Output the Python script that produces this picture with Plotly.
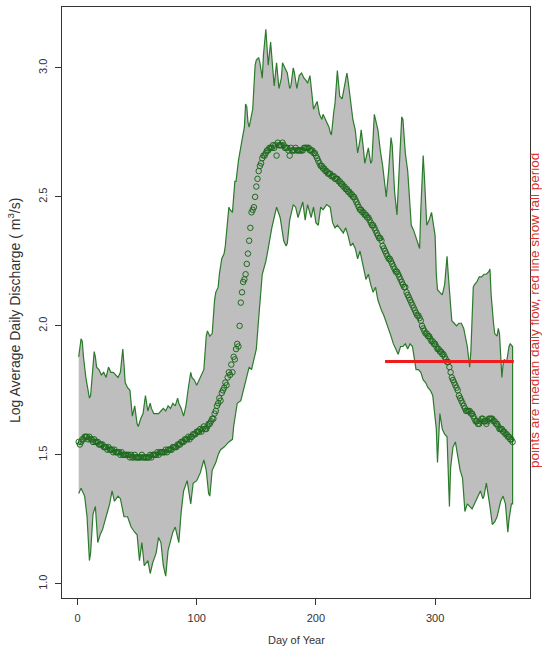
import plotly.graph_objects as go

# ---- data ----
upper_days = [1, 3, 4, 5, 7, 9, 10, 11, 13, 14, 15, 16, 18, 20, 22, 24, 26, 28, 30, 32, 34, 36, 38, 39, 40, 42, 44, 46, 48, 50,
              51, 53, 55, 57, 58, 59, 61, 62, 64, 66, 68, 70, 72, 74, 76, 78, 80, 82, 84, 85, 87, 89, 91, 93, 95, 96, 98, 100, 102, 104,
              106, 108, 109, 111, 113, 115, 116, 118, 119, 121, 123, 124, 126, 127, 128, 130, 132, 133, 135, 137, 138, 140, 141, 142, 143, 144, 146, 147, 149, 150,
              152, 153, 155, 156, 158, 159, 160, 162, 163, 165, 167, 169, 171, 172, 174, 176, 178, 179, 181, 182, 184, 186, 188, 190, 192, 193, 195, 196, 198, 199,
              201, 203, 205, 206, 208, 209, 211, 212, 213, 215, 216, 218, 219, 220, 222, 224, 226, 227, 229, 231, 233, 235, 237, 238, 240, 241, 243, 244, 246, 247,
              249, 250, 252, 254, 256, 258, 259, 261, 263, 264, 266, 268, 270, 272, 273, 275, 277, 279, 280, 282, 284, 286, 287, 288, 290, 291, 293, 295, 297, 299,
              300, 301, 302, 304, 306, 308, 310, 311, 313, 314, 316, 318, 320, 322, 324, 325, 327, 329, 330, 332, 333, 335, 337, 339, 341, 343, 345, 346, 347, 349,
              350, 352, 353, 354, 356, 357, 358, 360, 362, 363, 365]
upper_vals = [1.88, 1.95, 1.94, 1.88, 1.80, 1.74, 1.72, 1.73, 1.84, 1.90, 1.88, 1.84, 1.83, 1.81, 1.82, 1.80, 1.84, 1.82, 1.82, 1.81, 1.80, 1.82, 1.91, 1.85, 1.78, 1.76, 1.75, 1.65, 1.69, 1.62,
              1.61, 1.64, 1.66, 1.73, 1.69, 1.67, 1.70, 1.68, 1.66, 1.66, 1.66, 1.67, 1.68, 1.67, 1.69, 1.68, 1.70, 1.69, 1.72, 1.70, 1.68, 1.65, 1.69, 1.76, 1.82, 1.80, 1.79, 1.77, 1.79, 1.81,
              1.83, 1.96, 1.98, 1.96, 1.97, 2.10, 2.13, 2.15, 2.20, 2.26, 2.28, 2.31, 2.40, 2.46, 2.45, 2.44, 2.56, 2.56, 2.64, 2.70, 2.72, 2.77, 2.86, 2.85, 2.79, 2.77, 2.82, 2.84, 3.01, 3.03,
              3.04, 3.02, 2.96, 3.05, 3.15, 3.05, 3.01, 3.10, 3.05, 2.93, 3.02, 2.92, 2.96, 3.02, 3.00, 2.98, 2.92, 2.93, 3.00, 2.98, 2.92, 2.97, 2.98, 2.96, 2.95, 2.94, 2.97, 2.93, 2.84, 2.85,
              2.87, 2.82, 2.80, 2.82, 2.80, 2.79, 2.77, 2.75, 2.74, 2.83, 2.86, 2.99, 2.94, 2.89, 2.88, 2.93, 2.98, 2.95, 2.88, 2.80, 2.76, 2.67, 2.72, 2.76, 2.68, 2.63, 2.67, 2.69, 2.63, 2.64,
              2.82, 2.80, 2.76, 2.68, 2.62, 2.54, 2.50, 2.60, 2.73, 2.70, 2.52, 2.43, 2.60, 2.81, 2.80, 2.67, 2.60, 2.45, 2.39, 2.37, 2.34, 2.31, 2.30, 2.45, 2.66, 2.58, 2.39, 2.41, 2.44, 2.38,
              2.35, 2.20, 2.14, 2.13, 2.12, 2.16, 2.27, 2.20, 2.05, 2.02, 2.01, 2.00, 2.01, 2.01, 1.99, 1.97, 1.92, 1.84, 1.90, 2.15, 2.16, 2.17, 2.19, 2.19, 2.20, 2.20, 2.21, 2.22, 2.12, 2.01,
              1.97, 1.96, 1.99, 1.97, 1.80, 1.85, 1.87, 1.86, 1.92, 1.93, 1.92]

lower_days = [1, 3, 6, 8, 10, 11, 13, 15, 17, 19, 21, 24, 27, 29, 31, 34, 36, 39, 42, 45, 48, 50, 52, 54, 56, 59, 61, 63, 66, 68,
              70, 72, 74, 76, 78, 80, 82, 85, 87, 89, 92, 95, 97, 100, 103, 106, 108, 110, 111, 113, 116, 118, 120, 123, 127, 130, 131, 134, 137, 139,
              141, 144, 146, 149, 150, 152, 154, 155, 158, 160, 163, 165, 167, 170, 173, 175, 176, 178, 181, 183, 185, 187, 189, 191, 193, 196, 198, 200, 202, 204,
              206, 209, 212, 214, 216, 218, 220, 223, 225, 227, 229, 231, 233, 235, 237, 240, 242, 244, 246, 248, 250, 252, 255, 257, 259, 261, 263, 265, 267, 269,
              271, 273, 275, 277, 279, 281, 283, 284, 286, 288, 290, 292, 294, 296, 298, 299, 301, 302, 303, 304, 306, 308, 310, 311, 312, 313, 315, 317, 319, 321,
              323, 325, 327, 329, 331, 334, 336, 338, 340, 341, 343, 345, 346, 348, 350, 352, 355, 357, 359, 361, 362, 364, 365]
lower_vals = [1.35, 1.37, 1.34, 1.26, 1.09, 1.12, 1.27, 1.30, 1.16, 1.19, 1.21, 1.26, 1.31, 1.36, 1.32, 1.34, 1.33, 1.26, 1.26, 1.22, 1.20, 1.19, 1.09, 1.16, 1.07, 1.09, 1.04, 1.08, 1.12, 1.18,
              1.16, 1.07, 1.03, 1.13, 1.16, 1.20, 1.22, 1.16, 1.28, 1.36, 1.40, 1.31, 1.39, 1.40, 1.43, 1.48, 1.44, 1.35, 1.34, 1.44, 1.47, 1.50, 1.52, 1.53, 1.55, 1.56, 1.61, 1.70, 1.71, 1.75,
              1.78, 1.84, 1.83, 1.89, 1.91, 2.03, 2.15, 2.20, 2.25, 2.30, 2.38, 2.42, 2.46, 2.42, 2.33, 2.31, 2.32, 2.41, 2.47, 2.46, 2.42, 2.45, 2.48, 2.41, 2.47, 2.42, 2.46, 2.40, 2.39, 2.46,
              2.45, 2.47, 2.46, 2.40, 2.38, 2.39, 2.38, 2.36, 2.38, 2.35, 2.31, 2.32, 2.30, 2.26, 2.29, 2.23, 2.18, 2.20, 2.16, 2.13, 2.15, 2.10, 2.06, 2.04, 2.01, 1.99, 1.96, 1.93, 1.91, 1.89,
              1.92, 1.92, 1.93, 1.91, 1.93, 1.92, 1.86, 1.83, 1.83, 1.82, 1.79, 1.78, 1.76, 1.75, 1.73, 1.68, 1.60, 1.47, 1.58, 1.66, 1.60, 1.58, 1.57, 1.45, 1.30, 1.45, 1.53, 1.55, 1.49, 1.44,
              1.41, 1.28, 1.31, 1.30, 1.29, 1.32, 1.34, 1.36, 1.33, 1.34, 1.39, 1.33, 1.30, 1.23, 1.24, 1.26, 1.32, 1.34, 1.31, 1.20, 1.25, 1.31, 1.31]

days = list(range(1, 366))
median_vals = [
    1.55, 1.54, 1.55, 1.56, 1.56, 1.57, 1.57, 1.57, 1.56, 1.57,
    1.56, 1.56, 1.55, 1.56, 1.55, 1.55, 1.55, 1.54, 1.54, 1.54,
    1.54, 1.53, 1.53, 1.53, 1.52, 1.53, 1.52, 1.52, 1.52, 1.51,
    1.52, 1.51, 1.51, 1.51, 1.51, 1.50, 1.51, 1.50, 1.50, 1.50,
    1.50, 1.50, 1.50, 1.49, 1.50, 1.49, 1.49, 1.50, 1.49, 1.49,
    1.49, 1.49, 1.49, 1.50, 1.49, 1.49, 1.49, 1.49, 1.49, 1.49,
    1.50, 1.49, 1.50, 1.50, 1.50, 1.50, 1.51, 1.50, 1.51, 1.51,
    1.51, 1.51, 1.51, 1.52, 1.51, 1.52, 1.52, 1.52, 1.52, 1.53,
    1.53, 1.53, 1.53, 1.54, 1.54, 1.54, 1.55, 1.55, 1.55, 1.56,
    1.56, 1.56, 1.57, 1.56, 1.57, 1.57, 1.58, 1.58, 1.58, 1.59,
    1.59, 1.59, 1.60, 1.59, 1.60, 1.61, 1.60, 1.60, 1.61, 1.62,
    1.62, 1.63, 1.64, 1.64, 1.66, 1.67, 1.69, 1.70, 1.72, 1.71,
    1.74, 1.75, 1.76, 1.78, 1.77, 1.80, 1.82, 1.81, 1.85, 1.82,
    1.88, 1.87, 1.91, 1.93, 1.92, 2.00, 2.09, 2.13, 2.17, 2.18,
    2.20, 2.24, 2.28, 2.33, 2.38, 2.44, 2.45, 2.46, 2.50, 2.54,
    2.57, 2.60, 2.62, 2.63, 2.65, 2.66, 2.66, 2.67, 2.68, 2.68,
    2.69, 2.69, 2.69, 2.70, 2.69, 2.70, 2.66, 2.71, 2.70, 2.70,
    2.70, 2.71, 2.70, 2.69, 2.69, 2.69, 2.68, 2.66, 2.69, 2.68,
    2.68, 2.68, 2.69, 2.68, 2.68, 2.68, 2.68, 2.68, 2.68, 2.69,
    2.69, 2.69, 2.69, 2.69, 2.68, 2.68, 2.68, 2.67, 2.67, 2.66,
    2.65, 2.64, 2.63, 2.62, 2.62, 2.61, 2.61, 2.60, 2.60, 2.59,
    2.59, 2.59, 2.58, 2.58, 2.58, 2.57, 2.57, 2.57, 2.56, 2.56,
    2.55, 2.55, 2.54, 2.54, 2.53, 2.53, 2.52, 2.52, 2.51, 2.51,
    2.50, 2.50, 2.49, 2.48, 2.47, 2.46, 2.45, 2.45, 2.44, 2.44,
    2.43, 2.43, 2.42, 2.42, 2.41, 2.40, 2.39, 2.39, 2.38, 2.37,
    2.36, 2.35, 2.34, 2.34, 2.33, 2.31, 2.30, 2.29, 2.28, 2.27,
    2.26, 2.26, 2.25, 2.24, 2.23, 2.22, 2.21, 2.21, 2.20, 2.19,
    2.18, 2.17, 2.16, 2.15, 2.15, 2.13, 2.12, 2.11, 2.10, 2.09,
    2.08, 2.07, 2.06, 2.05, 2.04, 2.04, 2.03, 2.02, 2.00, 1.99,
    1.98, 1.97, 1.97, 1.96, 1.96, 1.95, 1.94, 1.94, 1.93, 1.93,
    1.92, 1.91, 1.91, 1.90, 1.90, 1.89, 1.89, 1.88, 1.87, 1.86,
    1.86, 1.84, 1.82, 1.80, 1.79, 1.78, 1.77, 1.76, 1.75, 1.73,
    1.72, 1.71, 1.70, 1.69, 1.68, 1.67, 1.67, 1.67, 1.67, 1.66,
    1.66, 1.65, 1.64, 1.63, 1.63, 1.62, 1.62, 1.63, 1.64, 1.64,
    1.63, 1.63, 1.62, 1.63, 1.64, 1.64, 1.64, 1.64, 1.63, 1.63,
    1.62, 1.62, 1.61, 1.60, 1.60, 1.60, 1.59, 1.59, 1.58, 1.58,
    1.57, 1.57, 1.56, 1.56, 1.55]

fall_days = [258, 366]
fall_level = [1.862, 1.862]

x_ticks = [0, 100, 200, 300]
y_ticks = [1.0, 1.5, 2.0, 2.5, 3.0]
y_tick_text = ["1.0", "1.5", "2.0", "2.5", "3.0"]

# ---- figure ----
GREEN_LINE = "#2c7a2c"
GREEN_PT = "#1d6a1d"
FONT = "Liberation Sans, Arial, Helvetica, sans-serif"

fig = go.Figure()
fig.add_trace(go.Scatter(
    x=upper_days + lower_days[::-1],
    y=upper_vals + lower_vals[::-1],
    fill="toself", fillcolor="#bebebe",
    mode="lines", line=dict(color=GREEN_LINE, width=1.2),
    hoverinfo="skip", showlegend=False))
fig.add_trace(go.Scatter(
    x=days, y=median_vals, mode="markers",
    marker=dict(symbol="circle-open", size=5.5, color=GREEN_PT, line=dict(width=1, color=GREEN_PT)),
    showlegend=False))
fig.add_trace(go.Scatter(
    x=fall_days, y=fall_level, mode="lines",
    line=dict(color="#ee1c1c", width=3), showlegend=False))

L, R, T, B = 62, 12, 7, 55
W, H = 542, 653
pw, ph = W - L - R, H - T - B

def px_x(px):
    return (px - L) / pw

def px_y(py):
    return (H - B - py) / ph

fig.update_layout(
    width=W, height=H,
    margin=dict(l=L, r=R, t=T, b=B),
    paper_bgcolor="white", plot_bgcolor="white",
    font=dict(family=FONT, size=11, color="#333333"),
    xaxis=dict(range=[-13, 379.6], tickvals=x_ticks, ticks="outside", ticklen=6,
               tickcolor="#333333", showline=True, mirror=True, linecolor="#333333",
               linewidth=1, showgrid=False, zeroline=False,
               tickfont=dict(size=11, color="#333333"), ticklabelstandoff=4),
    yaxis=dict(range=[0.945, 3.236], tickvals=y_ticks, ticktext=y_tick_text,
               tickangle=-90, ticks="outside", ticklen=6, tickcolor="#333333",
               showline=True, mirror=True, linecolor="#333333", linewidth=1,
               showgrid=False, zeroline=False,
               tickfont=dict(size=11, color="#333333"), ticklabelstandoff=4),
    annotations=[
        dict(text="Day of Year", xref="paper", yref="paper", x=0.5, y=px_y(640),
             xanchor="center", yanchor="middle", showarrow=False,
             font=dict(size=11, color="#333333", family=FONT)),
        dict(text="Log Average Daily Discharge ( m<sup>3</sup>/s)", xref="paper", yref="paper",
             x=px_x(14), y=px_y(311), xanchor="center", yanchor="middle", textangle=-90,
             showarrow=False, font=dict(size=14, color="#333333", family=FONT)),
        dict(text="points are median daily flow, red line show fall period", xref="paper",
             yref="paper", x=px_x(534), y=px_y(311), xanchor="center", yanchor="middle",
             textangle=-90, showarrow=False, font=dict(size=13.5, color="#e0302a", family=FONT)),
    ],
)

fig.write_html("out.html")
